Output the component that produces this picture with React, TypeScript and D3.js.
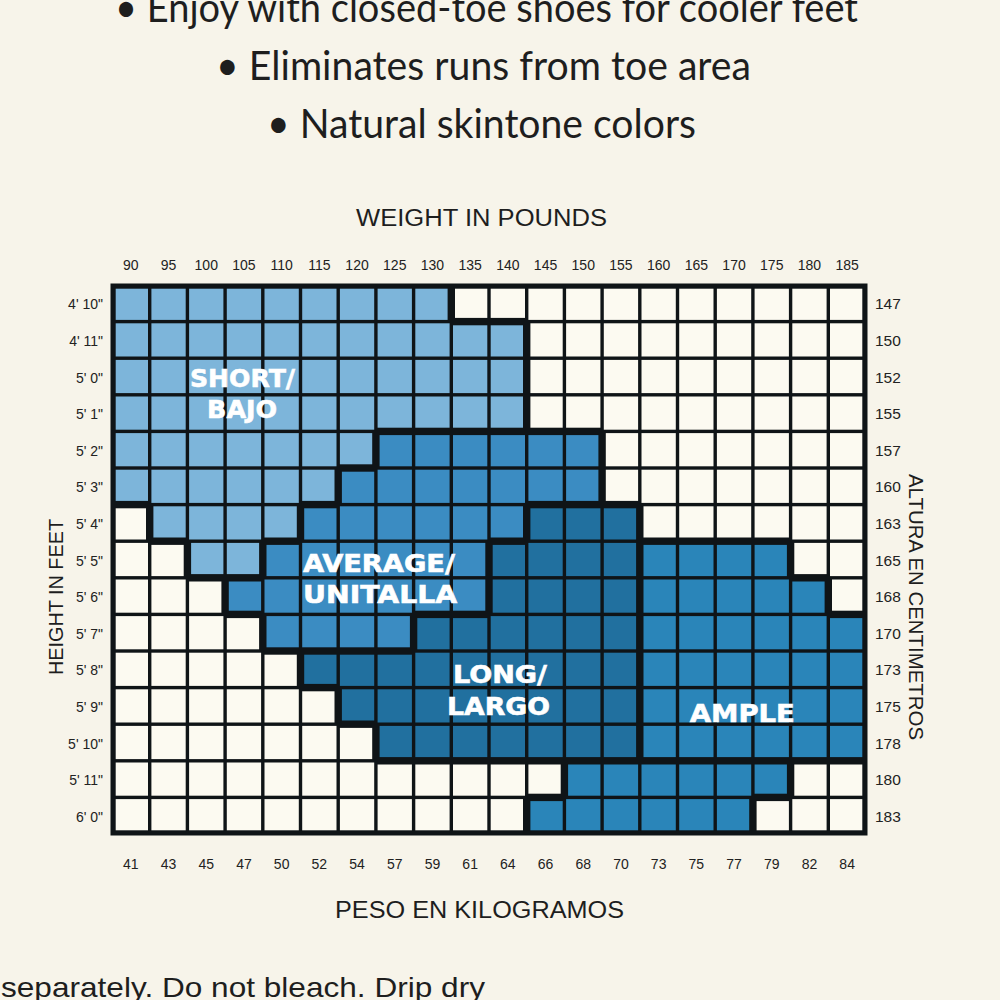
import React from "react";
import * as d3 from "d3";

// ---------- data ----------
const weightsLb = [90, 95, 100, 105, 110, 115, 120, 125, 130, 135, 140, 145, 150, 155, 160, 165, 170, 175, 180, 185];
const weightsKg = [41, 43, 45, 47, 50, 52, 54, 57, 59, 61, 64, 66, 68, 70, 73, 75, 77, 79, 82, 84];
const heightsFt = ["4' 10\"", "4' 11\"", "5' 0\"", "5' 1\"", "5' 2\"", "5' 3\"", "5' 4\"", "5' 5\"", "5' 6\"", "5' 7\"", "5' 8\"", "5' 9\"", "5' 10\"", "5' 11\"", "6' 0\""];
const heightsCm = [147, 150, 152, 155, 157, 160, 163, 165, 168, 170, 173, 175, 178, 180, 183];
// S = Short/Bajo, A = Average/Unitalla, L = Long/Largo, M = Ample, T = tall ample block, W = no size
const sizeRows = [
  "SSSSSSSSSWWWWWWWWWWW",
  "SSSSSSSSSSSWWWWWWWWW",
  "SSSSSSSSSSSWWWWWWWWW",
  "SSSSSSSSSSSWWWWWWWWW",
  "SSSSSSSAAAAAAWWWWWWW",
  "SSSSSSAAAAAAAWWWWWWW",
  "WSSSSAAAAAALLLWWWWWW",
  "WWSSAAAAAALLLLMMMMWW",
  "WWWAAAAAAALLLLMMMMMW",
  "WWWWAAAALLLLLLMMMMMM",
  "WWWWWLLLLLLLLLMMMMMM",
  "WWWWWWLLLLLLLLMMMMMM",
  "WWWWWWWLLLLLLLMMMMMM",
  "WWWWWWWWWWWWTTTTTTWW",
  "WWWWWWWWWWWTTTTTTWWW",
];
const sizeNames = ["SHORT/", "BAJO", "AVERAGE/", "UNITALLA", "LONG/", "LARGO", "AMPLE"];
const bullets = ["• Enjoy with closed-toe shoes for cooler feet", "• Eliminates runs from toe area", "• Natural skintone colors"];

// ---------- styles / layout ----------
const colors: Record<string, string> = {
  S: "#7db5da",
  A: "#3b8cc2",
  L: "#21709f",
  M: "#2a85b9",
  T: "#2a85b9",
  W: "#fcfaf1",
};
const labelLayout = [
  { gx: 3.46, gy: 2.79, w: 105 },
  { gx: 3.45, gy: 3.63, w: 70 },
  { gx: 7.08, gy: 7.84, w: 152 },
  { gx: 7.11, gy: 8.69, w: 154 },
  { gx: 10.29, gy: 10.87, w: 94 },
  { gx: 10.25, gy: 11.75, w: 103 },
  { gx: 16.72, gy: 11.94, w: 105 },
];
const bulletLayout = [
  { x0: 115, x1: 858, y: 22 },
  { x0: 216, x1: 751, y: 80 },
  { x0: 267, x1: 696, y: 138 },
];

const GX0 = 112, GX1 = 866, GY0 = 285, GY1 = 834;
const sans = "'Liberation Sans', Arial, sans-serif";
const humanist = "Lato, 'Open Sans', sans-serif";

export default function App() {
  const x = d3.scaleBand<number>().domain(d3.range(weightsLb.length)).range([GX0, GX1]);
  const y = d3.scaleBand<number>().domain(d3.range(heightsFt.length)).range([GY0, GY1]);
  const gx = d3.scaleLinear().domain([0, weightsLb.length]).range([GX0, GX1]);
  const gy = d3.scaleLinear().domain([0, heightsFt.length]).range([GY0, GY1]);
  const bw = x.bandwidth();
  const bh = y.bandwidth();
  const thin = 1.7, thick = 3.7;

  const region = (r: number, c: number) =>
    r < 0 || r >= sizeRows.length || c < 0 || c >= weightsLb.length ? "#" : sizeRows[r][c];

  const cells: JSX.Element[] = [];
  sizeRows.forEach((row, r) => {
    row.split("").forEach((k, c) => {
      const l = region(r, c - 1) === k ? thin : thick;
      const rt = region(r, c + 1) === k ? thin : thick;
      const t = region(r - 1, c) === k ? thin : thick;
      const b = region(r + 1, c) === k ? thin : thick;
      const x0 = x(c)!, y0 = y(r)!;
      cells.push(
        <rect key={`${r}-${c}`} x={x0 + l} y={y0 + t} width={bw - l - rt} height={bh - t - b} fill={colors[k]} />
      );
    });
  });

  return (
    <svg width={1000} height={1000} style={{ position: "absolute", left: 0, top: 0 }}>
      <rect width={1000} height={1000} fill="#f7f4ea" />
      {bullets.map((s, i) => (
        <text key={s} x={bulletLayout[i].x0} y={bulletLayout[i].y} fontFamily={humanist} fontSize={40}
          fill="#1e1e1e" textLength={bulletLayout[i].x1 - bulletLayout[i].x0} lengthAdjust="spacingAndGlyphs">{s}</text>
      ))}
      <text x={356} y={226} fontFamily={sans} fontSize={23} fill="#1e1e1e" textLength={251} lengthAdjust="spacingAndGlyphs">WEIGHT IN POUNDS</text>
      <text x={335} y={918} fontFamily={sans} fontSize={23} fill="#1e1e1e" textLength={289} lengthAdjust="spacingAndGlyphs">PESO EN KILOGRAMOS</text>
      <text transform="translate(63,597) rotate(-90)" textAnchor="middle" fontFamily={sans} fontSize={20} fill="#1e1e1e" textLength={156} lengthAdjust="spacingAndGlyphs">HEIGHT IN FEET</text>
      <text transform="translate(909,607) rotate(90)" textAnchor="middle" fontFamily={sans} fontSize={20} fill="#1e1e1e" textLength={266} lengthAdjust="spacingAndGlyphs">ALTURA EN CENTIMETROS</text>

      {weightsLb.map((w, i) => (
        <text key={"lb" + w} x={x(i)! + bw / 2} y={270} textAnchor="middle" fontFamily={sans} fontSize={14} fill="#222">{w}</text>
      ))}
      {weightsKg.map((w, i) => (
        <text key={"kg" + i} x={x(i)! + bw / 2} y={869} textAnchor="middle" fontFamily={sans} fontSize={14} fill="#222">{w}</text>
      ))}
      {heightsFt.map((h, i) => (
        <text key={"ft" + i} x={103} y={y(i)! + bh / 2 + 6} textAnchor="end" fontFamily={sans} fontSize={14} fill="#222">{h}</text>
      ))}
      {heightsCm.map((h, i) => (
        <text key={"cm" + i} x={875} y={y(i)! + bh / 2 + 6} fontFamily={sans} fontSize={15.5} fill="#222">{h}</text>
      ))}

      <rect x={GX0 - 1.5} y={GY0 - 1.5} width={GX1 - GX0 + 3} height={GY1 - GY0 + 3} fill="#0f1417" />
      {cells}

      {sizeNames.map((s, i) => (
        <text key={s} x={gx(labelLayout[i].gx)} y={gy(labelLayout[i].gy)} textAnchor="middle"
          fontFamily="'DejaVu Sans', sans-serif" fontWeight="bold" fontSize={24} fill="#ffffff"
          stroke="#ffffff" strokeWidth={0.6}
          textLength={labelLayout[i].w} lengthAdjust="spacingAndGlyphs">{s}</text>
      ))}

      <text x={1} y={997} fontFamily={sans} fontSize={28} fill="#1e1e1e" textLength={484} lengthAdjust="spacingAndGlyphs">separately. Do not bleach. Drip dry</text>
    </svg>
  );
}
